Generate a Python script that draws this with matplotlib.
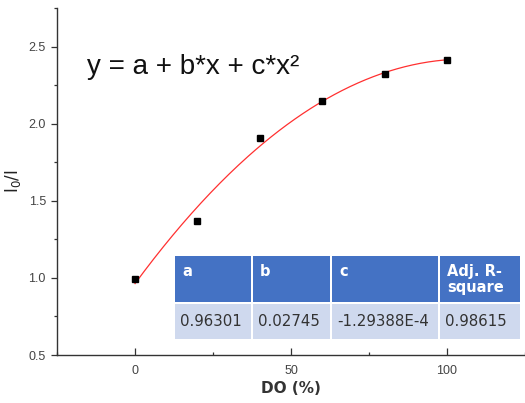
import matplotlib

matplotlib.use("Agg")
import matplotlib.pyplot as plt
import numpy as np
from matplotlib.patches import Rectangle
from matplotlib.ticker import MultipleLocator

# Measured quenching ratio vs dissolved oxygen
do_percent = [0, 20, 40, 60, 80, 100]
ratio = [0.995, 1.37, 1.91, 2.15, 2.325, 2.41]

# Quadratic fit parameters
fit_a = 0.96301
fit_b = 0.02745
fit_c = -1.29388e-4
adj_r2 = 0.98615

header_labels = ["a", "b", "c", "Adj. R-\nsquare"]
value_labels = ["0.96301", "0.02745", "-1.29388E-4", "0.98615"]

fig = plt.figure(figsize=(5.25, 4.03), dpi=100)
ax = fig.add_axes([57 / 525, 1 - 355 / 403, 1 - 57 / 525, (355 - 8) / 403])

xf = np.linspace(0, 100, 200)
ax.plot(xf, fit_a + fit_b * xf + fit_c * xf**2, color="#ff3030", lw=0.9, zorder=2)
ax.plot(do_percent, ratio, ls="none", marker="s", ms=5, color="black", zorder=3)

ax.set_xlim(-25, 125)
ax.set_ylim(0.5, 2.75)
ax.xaxis.set_major_locator(MultipleLocator(50))
ax.xaxis.set_minor_locator(MultipleLocator(25))
ax.yaxis.set_major_locator(MultipleLocator(0.5))
ax.yaxis.set_minor_locator(MultipleLocator(0.25))

for side in ("top", "right"):
    ax.spines[side].set_visible(False)
for side in ("left", "bottom"):
    ax.spines[side].set_color("#333333")
    ax.spines[side].set_linewidth(1.0)

ax.tick_params(axis="x", which="major", direction="in", length=5, width=0.9,
               color="#333333", labelcolor="#444444", labelsize=9, pad=7)
ax.tick_params(axis="x", which="minor", direction="in", length=2.5, width=0.9, color="#333333")
ax.tick_params(axis="y", which="major", direction="out", length=4, width=0.9,
               color="#333333", labelcolor="#444444", labelsize=9, pad=4)
ax.tick_params(axis="y", which="minor", direction="out", length=2.5, width=0.9, color="#333333")
for lbl in ax.get_xticklabels() + ax.get_yticklabels():
    lbl.set_fontfamily("Liberation Sans")

ax.set_xlabel("DO (%)", fontsize=11, fontweight="bold", color="#333333",
              family="DejaVu Sans", labelpad=3)
ax.set_ylabel("I$_0$/I", fontsize=12, color="#222222", family="DejaVu Sans", labelpad=4)

fig.text(87 / 525, 1 - 67 / 403, "y = a + b*x + c*x²", fontsize=20,
         family="Liberation Sans", color="#111111", va="center", ha="left")

# Fit-parameter table drawn as filled cells
tab = fig.add_axes([0, 0, 1, 1], facecolor="none")
tab.set_xlim(0, 525)
tab.set_ylim(403, 0)
tab.axis("off")
col_edges = [174, 252, 331, 439, 521]
row_edges = [256, 303, 339]
for i in range(4):
    x0, x1 = col_edges[i], col_edges[i + 1]
    tab.add_patch(Rectangle((x0 + 1, row_edges[0]), x1 - x0 - 2, row_edges[1] - row_edges[0] - 1,
                            facecolor="#4472c4", edgecolor="none"))
    tab.add_patch(Rectangle((x0 + 1, row_edges[1] + 1), x1 - x0 - 2, row_edges[2] - row_edges[1] - 1,
                            facecolor="#cfd9ee", edgecolor="none"))
    tab.text(x0 + 8, row_edges[0] + 8, header_labels[i], color="white", fontsize=10.5,
             fontweight="bold", family="DejaVu Sans", va="top", ha="left", linespacing=1.1)
    tab.text(x0 + 6, (row_edges[1] + row_edges[2]) / 2 + 1, value_labels[i], color="#333333",
             fontsize=10.8, family="DejaVu Sans", va="center", ha="left")

fig.savefig("out.png", dpi=100)
